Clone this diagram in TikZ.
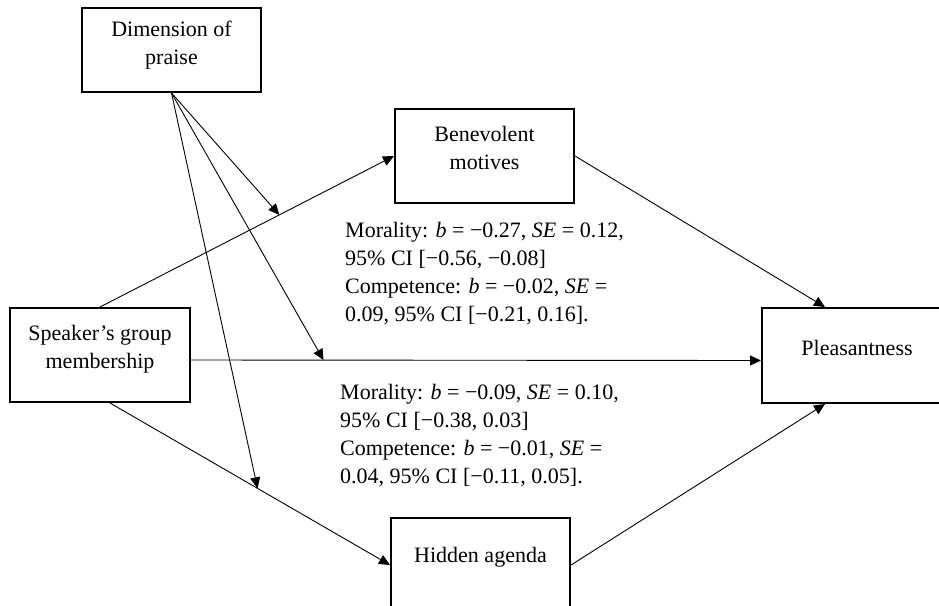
\documentclass[tikz,border=0pt]{standalone}
\usepackage{fontspec}
\setmainfont{Liberation Serif}
\usetikzlibrary{arrows.meta}
\tikzset{
  box/.style={draw, line width=2pt, inner sep=0pt},
  lbl/.style={align=center, inner sep=0pt, font=\fontsize{22}{28}\selectfont},
  stat/.style={align=left, inner sep=0pt, anchor=north west, font=\fontsize{22}{28}\selectfont},
  conn/.style={draw, line width=0.9pt},
  arr/.style={conn, -{Triangle[length=11pt,width=10pt]}}
}
\begin{document}
\begin{tikzpicture}[x=1pt,y=-1pt]
\useasboundingbox (0,0) rectangle (939,605);
\clip (0,0) rectangle (939,605);
% boxes
\node[box, minimum width=179pt, minimum height=84pt] (dim) at (171.5,50) {};
\node[box, minimum width=180pt, minimum height=94pt] (spk) at (100,355) {};
\node[box, minimum width=179pt, minimum height=94pt] (ben) at (484.5,156) {};
\node[box, minimum width=190pt, minimum height=95pt] (ple) at (857,355.5) {};
\node[box, minimum width=179pt, minimum height=94pt] (hid) at (480.5,565) {};
% box texts
\node[lbl] (dimt) at ([yshift=5pt]dim.center) {Dimension of\\praise};
\node[lbl] (spkt) at ([yshift=6pt]spk.center) {Speaker’s group\\membership};
\node[lbl] (bent) at ([yshift=8pt]ben.center) {Benevolent\\motives};
\node[lbl] (plet) at ([yshift=8pt]ple.center) {Pleasantness};
\node[lbl] (hidt) at ([yshift=8pt]hid.center) {Hidden agenda};
% paths
\draw[arr] (spk.north) -- coordinate[pos=0.61] (m1) (ben.west);
\draw[arr] ([yshift=-5pt]spk.east) -- coordinate[pos=0.2325] (m2) ([yshift=-5pt]ple.west);
\draw[arr] ([xshift=10pt]spk.south) -- coordinate[pos=0.527] (m3) (hid.west);
\draw[arr] (ben.east) -- ([xshift=-32pt]ple.north);
\draw[arr] (hid.east) -- ([xshift=-32pt]ple.south);
\draw[arr] (dim.south) -- (m1);
\draw[arr] (dim.south) -- (m2);
\draw[arr] (dim.south) -- (m3);
% statistics
\node[stat] (s1) at (345,222.5) {Morality: \textit{b} = −0.27, \textit{SE} = 0.12,\\95\% CI [−0.56, −0.08]\\Competence: \textit{b} = −0.02, \textit{SE} =\\0.09, 95\% CI [−0.21, 0.16].};
\node[stat] (s2) at (340,384.5) {Morality: \textit{b} = −0.09, \textit{SE} = 0.10,\\95\% CI [−0.38, 0.03]\\Competence: \textit{b} = −0.01, \textit{SE} =\\0.04, 95\% CI [−0.11, 0.05].};
\end{tikzpicture}
\end{document}
